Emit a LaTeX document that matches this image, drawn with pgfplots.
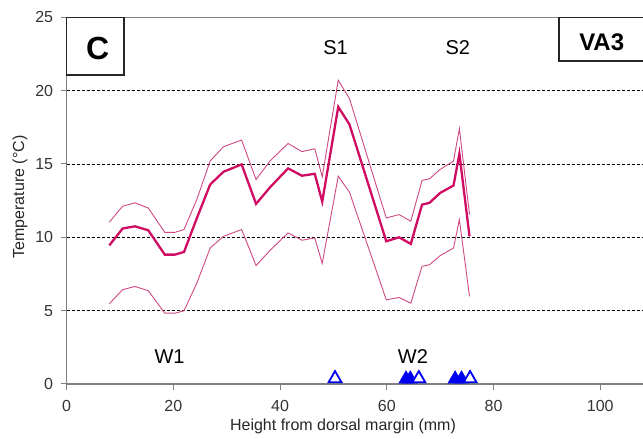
\documentclass[border=0pt]{standalone}
\usepackage{fontspec}
\setmainfont{Liberation Sans}
\usepackage{pgfplots}
\usepackage{pgfplotstable}
\pgfplotsset{compat=1.18}
\definecolor{meanc}{RGB}{208,12,98}
\definecolor{bandc}{RGB}{206,72,132}
\definecolor{axgray}{RGB}{128,128,128}
\definecolor{triblue}{RGB}{0,0,240}
\pgfplotstableread{
x     lo     mean   hi
8.0   5.47   9.45   11.03
10.5  6.43   10.60  12.12
12.8  6.65   10.75  12.35
15.3  6.36   10.48  12.00
18.4  4.83   8.82   10.34
20.3  4.83   8.82   10.34
22.0  4.99   9.00   10.53
24.4  6.88   11.30  12.58
26.9  9.27   13.60  15.20
29.4  10.07  14.47  16.18
32.8  10.53  14.97  16.63
35.5  8.07   12.28  13.94
38.1  9.10   13.40  15.20
41.5  10.30  14.70  16.40
44.1  9.80   14.20  15.84
46.5  9.96   14.33  16.04
47.9  8.22   12.43  14.13
50.9  14.17  18.89  20.71
53.0  13.08  17.70  19.46
59.9  5.74   9.73   11.32
62.3  5.90   10.00  11.55
64.5  5.51   9.55   11.10
66.6  8.02   12.23  13.88
68.0  8.13   12.35  13.99
70.0  8.75   13.03  14.63
72.5  9.27   13.53  15.20
73.6  11.21  15.70  17.41
75.5  5.97   10.07  11.55
}\tempdata
\begin{document}
\begin{tikzpicture}
\useasboundingbox (0,0) rectangle (643bp,439bp);
\clip (0,0) rectangle (643bp,439bp);
\begin{axis}[
  at={(66.6bp,55bp)}, anchor=south west,
  scale only axis, width=581.7bp, height=366.7bp,
  xmin=0, xmax=109, ymin=0, ymax=25,
  xtick={0,20,...,100}, ytick={0,5,...,25},
  tick pos=left, tick align=outside,
  major tick length=6bp,
  tick style={draw=axgray, line width=1bp},
  axis line style={draw=axgray, line width=1.5bp},
  extra y ticks={5,10,15,20}, extra y tick labels={},
  extra y tick style={ymajorgrids=true, major tick length=0pt},
  grid style={black, line width=0.8bp, dash pattern=on 3bp off 2bp},
  /pgf/number format/assume math mode=true,
  tick label style={font=\fontsize{16bp}{18bp}\selectfont, text=black!80},
  yticklabel style={xshift=-4bp},
  xticklabel style={yshift=-7bp},
]
\addplot[bandc, line width=0.9bp] table[x=x, y=hi] {\tempdata};
\addplot[bandc, line width=0.9bp] table[x=x, y=lo] {\tempdata};
\addplot[meanc, line width=2.3bp] table[x=x, y=mean] {\tempdata};
\addplot[only marks, mark=triangle*, mark size=8.3bp, mark options={fill=triblue, draw=triblue, line width=0.5bp}] coordinates {(63.6,0.34)(64.4,0.34)(72.8,0.34)(74.0,0.34)};
\addplot[only marks, mark=triangle*, mark size=7.5bp, mark options={fill=white, draw=triblue, line width=1.8bp}] coordinates {(50.3,0.37)(66.0,0.37)(75.6,0.37)};
\node[font=\fontsize{20bp}{22bp}\selectfont, inner sep=0] at (axis cs:50.4,22.96) {S1};
\node[font=\fontsize{20bp}{22bp}\selectfont, inner sep=0] at (axis cs:73.3,22.96) {S2};
\node[font=\fontsize{20bp}{22bp}\selectfont, inner sep=0] at (axis cs:19.3,1.86) {W1};
\node[font=\fontsize{20bp}{22bp}\selectfont, inner sep=0] at (axis cs:64.9,1.86) {W2};
\end{axis}
\draw[line width=1.4bp, black!85] (66.6bp,364bp) rectangle (124bp,421.7bp);
\node[font=\bfseries\fontsize{32bp}{34bp}\selectfont, inner sep=0] at (97.7bp,390.7bp) {C};
\draw[line width=1.4bp, black!85] (559bp,378bp) rectangle (690bp,421.7bp);
\node[font=\bfseries\fontsize{24bp}{26bp}\selectfont, inner sep=0] at (601.7bp,397bp) {VA3};
\node[font=\fontsize{16bp}{18bp}\selectfont, text=black!85, inner sep=0] at (343bp,13bp) {Height from dorsal margin (mm)};
\node[font=\fontsize{16bp}{18bp}\selectfont, text=black!85, inner sep=0, rotate=90] at (20bp,242bp) {Temperature (°C)};
\end{tikzpicture}
\end{document}
